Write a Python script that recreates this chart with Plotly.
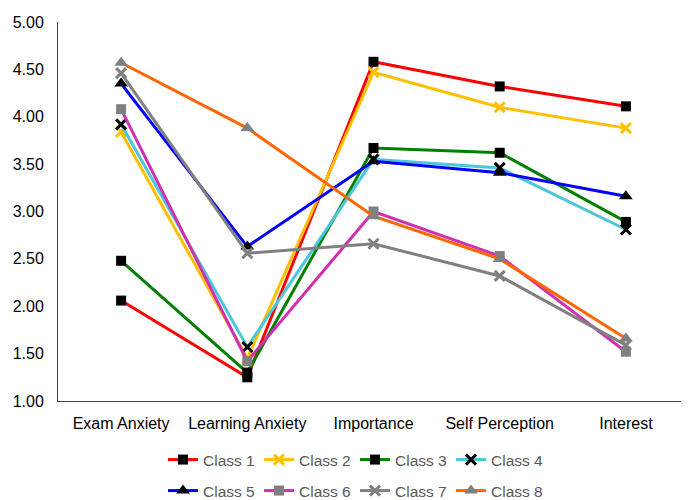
import plotly.graph_objects as go

categories = ["Exam Anxiety", "Learning Anxiety", "Importance", "Self Perception", "Interest"]
class_names = ["Class 1", "Class 2", "Class 3", "Class 4", "Class 5", "Class 6", "Class 7", "Class 8"]
class1 = [2.06, 1.25, 4.58, 4.32, 4.11]
class2 = [3.84, 1.45, 4.47, 4.10, 3.88]
class3 = [2.48, 1.30, 3.67, 3.62, 2.89]
class4 = [3.92, 1.57, 3.55, 3.46, 2.81]
class5 = [4.35, 2.63, 3.53, 3.41, 3.16]
class6 = [4.08, 1.42, 3.00, 2.53, 1.52]
class7 = [4.46, 2.56, 2.66, 2.32, 1.59]
class8 = [4.57, 3.88, 2.95, 2.50, 1.66]
y_ticks = [1.0, 1.5, 2.0, 2.5, 3.0, 3.5, 4.0, 4.5, 5.0]

series = [class1, class2, class3, class4, class5, class6, class7, class8]
line_colors = ["#FF0000", "#FFC000", "#008000", "#4BC6DB", "#0000FF", "#D030B0", "#808080", "#FF6600"]
marker_colors = ["#000000", "#FFC000", "#000000", "#000000", "#000000", "#808080", "#808080", "#808080"]
marker_symbols = ["square", "x-thin", "square", "x-thin", "triangle-up", "square", "x-thin", "triangle-up"]

# The page body has an 8px margin, so the figure is drawn 8px in from the corner.
W, H, OFF = 681, 492, 8

fig = go.Figure()
for i, (name, vals, lc, mc, ms) in enumerate(zip(class_names, series, line_colors, marker_colors, marker_symbols)):
    thin = ms == "x-thin"
    size = 12 if ms == "triangle-up" else 10
    fig.add_trace(go.Scatter(
        x=categories, y=vals, name=name, mode="lines+markers",
        legend="legend" if i < 4 else "legend2",
        line=dict(color=lc, width=3),
        marker=dict(symbol=ms, size=size, color=mc,
                    line=dict(color=mc, width=3 if thin else 0)),
    ))

legend_common = dict(orientation="h", xref="container", yref="container",
                     xanchor="left", yanchor="middle",
                     font=dict(size=15.5, color="#595959", family="Liberation Sans, Arial, sans-serif"),
                     itemwidth=30, entrywidth=51, entrywidthmode="pixels",
                     bgcolor="rgba(0,0,0,0)", borderwidth=0)

fig.update_layout(
    width=W, height=H,
    margin=dict(l=58 - OFF, r=0, t=22 - OFF, b=H - (401 - OFF), autoexpand=False),
    paper_bgcolor="white", plot_bgcolor="white",
    font=dict(family="Liberation Sans, Arial, sans-serif", size=16, color="#000000"),
    showlegend=True,
    legend=dict(x=(163 - OFF) / W, y=1 - (460 - OFF) / H, **legend_common),
    legend2=dict(x=(163 - OFF) / W, y=1 - (491 - OFF) / H, **legend_common),
    xaxis=dict(showline=True, linecolor="#404040", linewidth=1, ticks="",
               showgrid=False, zeroline=False, range=[-0.5, 4.5],
               ticklabelstandoff=8),
    yaxis=dict(showline=True, linecolor="#404040", linewidth=1, ticks="",
               showgrid=False, zeroline=False, range=[1, 5],
               tickvals=y_ticks, ticktext=[f"{v:.2f}" for v in y_ticks],
               ticklabelstandoff=10),
)

fig.write_html("out.html")
